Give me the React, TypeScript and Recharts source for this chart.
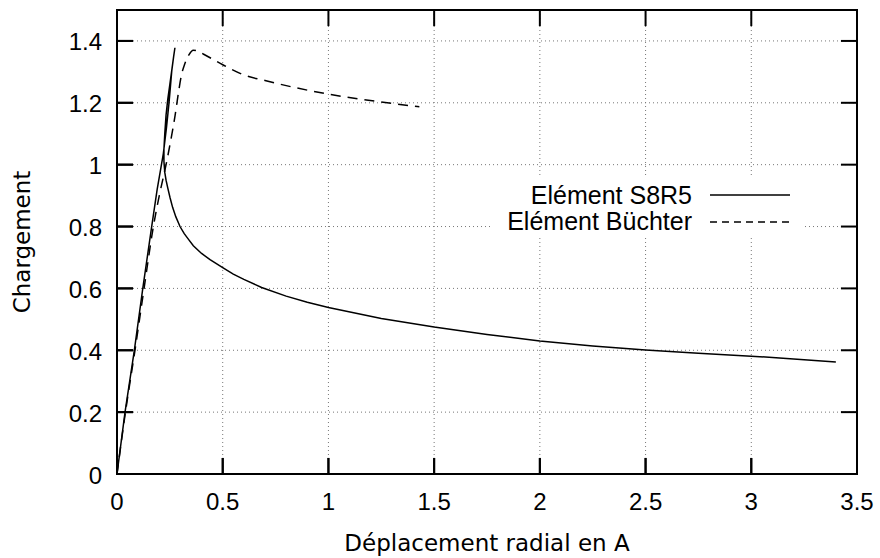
import { LineChart, Line, XAxis, YAxis, CartesianGrid, Legend, Label, ReferenceArea, ReferenceLine } from 'recharts'

// Déplacement radial / Chargement — élément S8R5 (avec retour élastique)
const s8r5Disp = [
  0, 0.038, 0.082, 0.122, 0.164, 0.19, 0.219, 0.234, 0.246, 0.259, 0.268, 0.274,
  0.268, 0.26, 0.25, 0.24, 0.232, 0.226, 0.222, 0.222, 0.226, 0.232, 0.24, 0.251,
  0.263, 0.278, 0.298, 0.318, 0.34, 0.361, 0.4, 0.44, 0.5, 0.55, 0.6, 0.684, 0.8, 0.9,
  1.0, 1.25, 1.5, 1.75, 2.0, 2.25, 2.5, 2.75, 3.0, 3.2, 3.4,
]
const s8r5Load = [
  0, 0.2, 0.4, 0.6, 0.8, 0.92, 1.035, 1.12, 1.2, 1.303, 1.35, 1.378,
  1.35, 1.31, 1.26, 1.21, 1.16, 1.1, 1.05, 1.01, 0.975, 0.95, 0.925, 0.893,
  0.862, 0.832, 0.8, 0.777, 0.757, 0.738, 0.713, 0.693, 0.667, 0.646, 0.629, 0.603, 0.575, 0.555,
  0.538, 0.503, 0.475, 0.451, 0.43, 0.414, 0.401, 0.39, 0.381, 0.372, 0.362,
]

// élément Büchter
const buchterDisp = [
  0, 0.04, 0.085, 0.128, 0.172, 0.2, 0.232, 0.26, 0.275, 0.29, 0.305, 0.32,
  0.34, 0.361, 0.38, 0.41, 0.45, 0.5, 0.6, 0.7, 0.85, 1.0, 1.244, 1.43,
]
const buchterLoad = [
  0, 0.2, 0.4, 0.6, 0.8, 0.9, 1.0, 1.1, 1.16, 1.23, 1.29, 1.325,
  1.355, 1.37, 1.368, 1.357, 1.342, 1.323, 1.29, 1.272, 1.248, 1.228, 1.203, 1.187,
]

const xTicks = [0, 0.5, 1, 1.5, 2, 2.5, 3, 3.5]
const yTicks = [0, 0.2, 0.4, 0.6, 0.8, 1, 1.2, 1.4]

const seriesNames = ['Elément S8R5', 'Elément Büchter']

const s8r5 = s8r5Disp.map((x, i) => ({ x, y: s8r5Load[i] }))
const buchter = buchterDisp.map((x, i) => ({ x, y: buchterLoad[i] }))

const X_MAX = 3.5
const Y_MAX = 1.5
const TICK_LEN = 16
// inward tick length in axis units (~16px), used for the tick marks on all four sides
const V_TICK = 0.052
const H_TICK = 0.076

const tickFont = { fontFamily: 'Liberation Sans, Arial, sans-serif', fontSize: 24, fill: '#000' }
const titleFont = { fontFamily: 'DejaVu Sans, sans-serif', fontSize: 23, fill: '#000' }

// tick labels drawn by hand, tick marks point inward (gnuplot style)
const BottomTick = ({ x, y, payload }: any) => (
  <text x={x} y={y + 27} textAnchor="middle" dominantBaseline="central" {...tickFont}>
    {String(payload.value)}
  </text>
)

const LeftTick = ({ x, y, payload }: any) => (
  <text x={x - 15} y={y + 1} textAnchor="end" dominantBaseline="central" {...tickFont}>
    {String(payload.value)}
  </text>
)

function LegendBox() {
  return (
    <svg width={315} height={62} style={{ display: 'block', background: '#fff' }}>
      <text x={202} y={20} textAnchor="end" dominantBaseline="central" {...tickFont} fontSize={25}>
        {seriesNames[0]}
      </text>
      <line x1={220} y1={20} x2={300} y2={20} stroke="#000" strokeWidth={1.5} />
      <text x={202} y={46} textAnchor="end" dominantBaseline="central" {...tickFont} fontSize={25}>
        {seriesNames[1]}
      </text>
      <line x1={220} y1={47} x2={300} y2={47} stroke="#000" strokeWidth={1.5} strokeDasharray="7 5" />
    </svg>
  )
}

export default function App() {
  return (
    <div style={{ position: 'absolute', left: 0, top: 0, background: '#fff' }}>
      <LineChart width={880} height={558} margin={{ top: 10, right: 23, bottom: 0, left: 0 }}>
        <CartesianGrid stroke="#777" strokeDasharray="1 3" />
        <XAxis
          dataKey="x"
          type="number"
          domain={[0, X_MAX]}
          ticks={xTicks}
          height={84}
          tickSize={-TICK_LEN}
          tickMargin={TICK_LEN}
          axisLine={{ stroke: '#000', strokeWidth: 2 }}
          tickLine={{ stroke: '#000', strokeWidth: 2 }}
          tick={<BottomTick />}
        >
          <Label
            content={({ viewBox }: any) => (
              <text
                x={viewBox.x + viewBox.width / 2}
                y={viewBox.y + 69}
                textAnchor="middle"
                dominantBaseline="central"
                {...titleFont}
              >
                Déplacement radial en A
              </text>
            )}
          />
        </XAxis>
        <YAxis
          type="number"
          domain={[0, Y_MAX]}
          ticks={yTicks}
          width={117}
          tickSize={-TICK_LEN}
          tickMargin={TICK_LEN}
          axisLine={{ stroke: '#000', strokeWidth: 2 }}
          tickLine={{ stroke: '#000', strokeWidth: 2 }}
          tick={<LeftTick />}
        >
          <Label
            content={({ viewBox }: any) => {
              const cx = viewBox.x + 22
              const cy = viewBox.y + viewBox.height / 2
              return (
                <text
                  x={cx}
                  y={cy}
                  textAnchor="middle"
                  dominantBaseline="central"
                  transform={`rotate(-90 ${cx} ${cy})`}
                  {...titleFont}
                >
                  Chargement
                </text>
              )
            }}
          />
        </YAxis>
        <ReferenceArea x1={0} x2={X_MAX} y1={0} y2={Y_MAX} fill="none" stroke="#000" strokeWidth={2} />
        {xTicks.map(v => (
          <ReferenceLine
            key={'b' + v}
            segment={[{ x: v, y: 0 }, { x: v, y: V_TICK }]}
            stroke="#000"
            strokeWidth={2}
          />
        ))}
        {xTicks.map(v => (
          <ReferenceLine
            key={'t' + v}
            segment={[{ x: v, y: Y_MAX }, { x: v, y: Y_MAX - V_TICK }]}
            stroke="#000"
            strokeWidth={2}
          />
        ))}
        {yTicks.map(v => (
          <ReferenceLine
            key={'l' + v}
            segment={[{ x: 0, y: v }, { x: H_TICK, y: v }]}
            stroke="#000"
            strokeWidth={2}
          />
        ))}
        {yTicks.map(v => (
          <ReferenceLine
            key={'r' + v}
            segment={[{ x: X_MAX, y: v }, { x: X_MAX - H_TICK, y: v }]}
            stroke="#000"
            strokeWidth={2}
          />
        ))}
        <Legend
          layout="vertical"
          align="center"
          verticalAlign="middle"
          content={() => <LegendBox />}
          wrapperStyle={{ left: 490, top: 175, width: 315, height: 62 }}
        />
        <Line
          data={s8r5}
          dataKey="y"
          name={seriesNames[0]}
          type="linear"
          stroke="#000"
          strokeWidth={1.5}
          dot={false}
          isAnimationActive={false}
        />
        <Line
          data={buchter}
          dataKey="y"
          name={seriesNames[1]}
          type="monotone"
          stroke="#000"
          strokeWidth={1.5}
          strokeDasharray="10 7"
          dot={false}
          isAnimationActive={false}
        />
      </LineChart>
    </div>
  )
}
